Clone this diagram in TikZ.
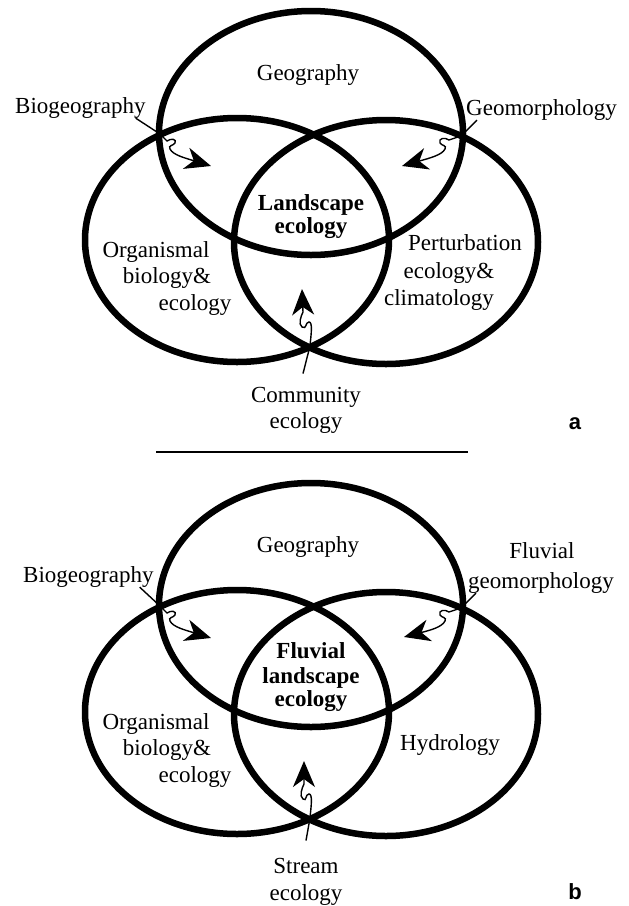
\documentclass[tikz,border=0pt]{standalone}
\usepackage{fontspec}
\setmainfont{Liberation Serif}
\newfontfamily\panelfont{Liberation Sans}
\usetikzlibrary{arrows.meta}

\begin{document}
\begin{tikzpicture}[x=1pt,y=-1pt,
  ring/.style={line width=6.5pt},
  lbl/.style={anchor=base, inner sep=0pt, font=\fontsize{23}{27}\selectfont},
  core/.style={lbl, font=\fontsize{23}{27}\selectfont\bfseries},
  panel/.style={anchor=base, inner sep=0pt, font=\fontsize{22}{26}\panelfont\bfseries},
  wire/.style={line width=1.4pt},
  wiggle/.style={line width=1.4pt, -{Stealth[length=26pt,width=22pt,inset=8pt]}}]
\useasboundingbox (0,0) rectangle (629,906);

% ---- panel a ----
\draw[ring] (311,133) ellipse [x radius=152pt, y radius=122pt];
\draw[ring] (237,240) ellipse [x radius=152pt, y radius=122pt];
\draw[ring] (386,242) ellipse [x radius=152pt, y radius=122pt];

\node[lbl] (geo1) at (308,80) {Geography};
\node[lbl, anchor=base west] (bio1) at (15,113) {Biogeography};
\node[lbl, anchor=base west] (geomor1) at (466,115) {Geomorphology};
\node[core] (land1) at (311,210) {Landscape};
\node[core] (landeco1) at (311,233) {ecology};
\node[lbl] (org1) at (156,257) {Organismal};
\node[lbl] (orgbio1) at (167,283) {biology\&};
\node[lbl] (orgeco1) at (195,310) {ecology};
\node[lbl] (pert1) at (465,250) {Perturbation};
\node[lbl] (perteco1) at (449,278) {ecology\&};
\node[lbl] (clim1) at (439,305) {climatology};
\node[lbl] (comm1) at (306,402) {Community};
\node[lbl] (commeco1) at (306,428) {ecology};
\node[panel] (tag1) at (575,429) {a};

\coordinate (bx1) at (160,134);
\coordinate (bt1) at (211,166);
\coordinate (gx1) at (461,136);
\coordinate (gt1) at (402,166);
\coordinate (cx1) at (310,346);
\coordinate (ct1) at (302,289);

\draw[wire] ([xshift=-10pt]bio1.south east) -- (bx1);
\draw[wiggle] (bx1) -- (167,141) .. controls (171,138) and (177,139) .. (175,143) .. controls (173,146) and (168,145) .. (170,149) .. controls (173,155) and (185,158) .. (bt1);
\draw[wire] ([xshift=11pt]geomor1.south west) -- (gx1);
\draw[wiggle] (gx1) -- (449,140) .. controls (445,137) and (438,138) .. (440,143) .. controls (442,146) and (447,145) .. (445,149) .. controls (442,155) and (430,158) .. (gt1);
\draw[wire] ([shift={(-3pt,13pt)}]comm1.north) -- (cx1);
\draw[wiggle] (cx1) .. controls (311,335) and (313,322) .. (309,322) .. controls (305,322) and (307,330) .. (302,327) .. controls (298,324) and (301,316) .. (303,312) -- (ct1);

% separator
\draw[line width=1.5pt] (156,452) -- (468,452);

% ---- panel b ----
\draw[ring] (311,605) ellipse [x radius=152pt, y radius=122pt];
\draw[ring] (237,712) ellipse [x radius=152pt, y radius=122pt];
\draw[ring] (386,714) ellipse [x radius=152pt, y radius=122pt];

\node[lbl] (geo2) at (308,552) {Geography};
\node[lbl, anchor=base west] (bio2) at (23,582) {Biogeography};
\node[lbl] (fluv2) at (542,558) {Fluvial};
\node[lbl] (geomor2) at (541,588) {geomorphology};
\node[core] (fluvcore2) at (311,658) {Fluvial};
\node[core] (land2) at (311,683) {landscape};
\node[core] (landeco2) at (311,706) {ecology};
\node[lbl] (org2) at (156,729) {Organismal};
\node[lbl] (orgbio2) at (167,755) {biology\&};
\node[lbl] (orgeco2) at (195,782) {ecology};
\node[lbl] (hydro2) at (450,750) {Hydrology};
\node[lbl] (stream2) at (306,873) {Stream};
\node[lbl] (streameco2) at (306,900) {ecology};
\node[panel] (tag2) at (575,899) {b};

\coordinate (bx2) at (160,606);
\coordinate (bt2) at (211,638);
\coordinate (gx2) at (461,608);
\coordinate (gt2) at (404,637);
\coordinate (cx2) at (310,818);
\coordinate (ct2) at (304,761);

\draw[wire] ([xshift=-14pt]bio2.south east) -- (bx2);
\draw[wiggle] (bx2) -- (167,613) .. controls (171,610) and (177,611) .. (175,615) .. controls (173,618) and (168,617) .. (170,621) .. controls (173,627) and (185,630) .. (bt2);
\draw[wire] ([xshift=8pt]geomor2.south west) -- (gx2);
\draw[wiggle] (gx2) -- (449,612) .. controls (445,609) and (438,610) .. (440,615) .. controls (442,618) and (447,617) .. (445,621) .. controls (442,627) and (431,630) .. (gt2);
\draw[wire] ([yshift=17pt]stream2.north) -- (cx2);
\draw[wiggle] (cx2) .. controls (311,807) and (313,794) .. (309,794) .. controls (305,794) and (307,802) .. (303,799) .. controls (299,796) and (302,788) .. (304,784) -- (ct2);

\end{tikzpicture}
\end{document}
